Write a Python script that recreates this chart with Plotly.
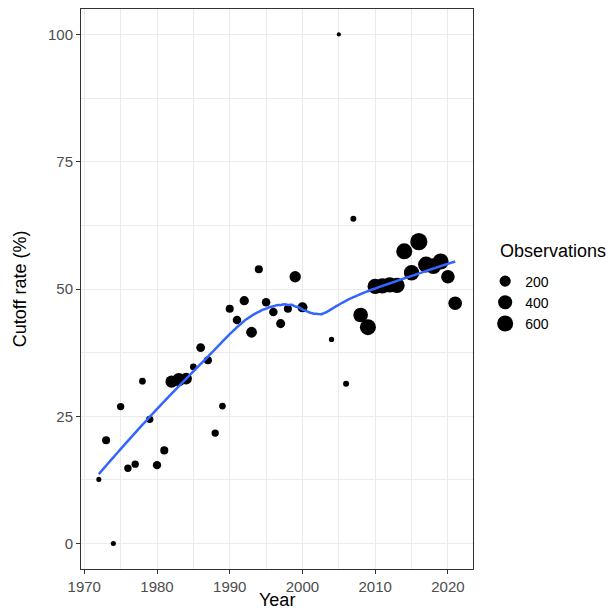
import numpy as np
import plotly.graph_objects as go

# ---- data ----
years = [1972, 1973, 1974, 1975, 1976, 1977, 1978, 1979, 1980, 1981,
         1982, 1983, 1984, 1985, 1986, 1987, 1988, 1989, 1990, 1991,
         1992, 1993, 1994, 1995, 1996, 1997, 1998, 1999, 2000,
         2004, 2005, 2006, 2007, 2008, 2009, 2010, 2011, 2012, 2013,
         2014, 2015, 2016, 2017, 2018, 2019, 2020, 2021]
cutoff_rate = [12.6, 20.3, 0.0, 26.9, 14.8, 15.6, 31.9, 24.4, 15.4, 18.3,
               31.8, 32.2, 32.4, 34.7, 38.5, 36.0, 21.7, 27.0, 46.1, 43.9,
               47.7, 41.5, 53.9, 47.4, 45.5, 43.2, 46.1, 52.4, 46.4,
               40.1, 100.0, 31.4, 63.8, 44.9, 42.5, 50.5, 50.6, 50.8, 50.7,
               57.4, 53.2, 59.3, 54.8, 54.5, 55.4, 52.4, 47.2]
observations = [8, 64, 8, 45, 45, 45, 30, 45, 75, 64,
                260, 330, 230, 30, 90, 64, 45, 30, 64, 80,
                110, 180, 64, 80, 80, 100, 64, 210, 143,
                10, 5, 18, 18, 440, 560, 500, 500, 500, 500,
                560, 500, 680, 560, 540, 560, 360, 360]
legend_breaks = [200, 400, 600]
x_ticks = [1970, 1980, 1990, 2000, 2010, 2020]
y_ticks = [0, 25, 50, 75, 100]

FONT = "Liberation Sans, Arial, Helvetica, sans-serif"

x = np.array(years, dtype=float)
y = np.array(cutoff_rate, dtype=float)
obs = np.array(observations, dtype=float)
vmin, vmax = obs.min(), obs.max()


def size_px(v):
    s = 1 + 5 * np.sqrt(np.clip((np.asarray(v, float) - vmin) / (vmax - vmin), 0, 1))
    return 1.6 + 2.6 * s


def loess(xv, yv, xs, wts, span=0.75):
    n = len(xv)
    q = int(np.floor(n * span))
    out = []
    for x0 in xs:
        d = np.abs(xv - x0)
        h = np.sort(d)[q - 1]
        u = np.clip(d / h, 0, 1)
        w = (1 - u ** 3) ** 3 * wts
        X = np.column_stack([np.ones(n), xv - x0, (xv - x0) ** 2])
        W = np.sqrt(w)
        beta, *_ = np.linalg.lstsq(X * W[:, None], yv * W, rcond=None)
        out.append(beta[0])
    return np.array(out)


xs = np.linspace(x.min(), x.max(), 160)
ys = loess(x, y, xs, obs)

fig = go.Figure()
fig.add_trace(go.Scatter(
    x=x, y=y, mode="markers", showlegend=False,
    marker=dict(size=size_px(obs), color="black", opacity=1, line=dict(width=0)),
))
fig.add_trace(go.Scatter(
    x=xs, y=ys, mode="lines", showlegend=False,
    line=dict(color="#3366FF", width=2.5, shape="spline", smoothing=1.0),
))
for b in legend_breaks:
    fig.add_trace(go.Scatter(
        x=[None], y=[None], mode="markers", name=str(b),
        marker=dict(size=float(size_px(b)), color="black", opacity=1, line=dict(width=0)),
    ))

axis_common = dict(
    showline=True, mirror=True, linecolor="#333333", linewidth=1,
    showgrid=True, gridcolor="#EBEBEB", gridwidth=1,
    zeroline=False, ticks="outside", ticklen=4, tickcolor="#333333", tickwidth=1,
    tickfont=dict(family=FONT, size=15, color="#4D4D4D"),
)

fig.update_xaxes(range=[1969.55, 2023.45], tickvals=x_ticks,
                 minor=dict(dtick=5, tick0=1965, showgrid=True, gridcolor="#EBEBEB", gridwidth=0.5, ticks=""),
                 **axis_common)
fig.update_yaxes(range=[-5, 105], tickvals=y_ticks,
                 minor=dict(dtick=12.5, tick0=0, showgrid=True, gridcolor="#EBEBEB", gridwidth=0.5, ticks=""),
                 **axis_common)

fig.update_layout(
    width=611, height=613,
    margin=dict(l=81, r=138, t=9, b=44),
    plot_bgcolor="white", paper_bgcolor="white",
    font=dict(family=FONT, color="black"),
    legend=dict(x=1.031, xanchor="left", y=0.542, yanchor="top",
                font=dict(family=FONT, size=14, color="black"),
                itemsizing="trace", bgcolor="rgba(0,0,0,0)", tracegroupgap=0),
    annotations=[
        dict(text="Year", xref="paper", yref="paper", x=0.5, y=-0.055,
             xanchor="center", yanchor="middle", showarrow=False,
             font=dict(family=FONT, size=18, color="black")),
        dict(text="Cutoff rate (%)", xref="paper", yref="paper", x=-0.155, y=0.5,
             xanchor="center", yanchor="middle", showarrow=False, textangle=-90,
             font=dict(family=FONT, size=18, color="black")),
        dict(text="Observations", xref="paper", yref="paper", x=1.0646, y=0.5675,
             xanchor="left", yanchor="middle", showarrow=False,
             font=dict(family=FONT, size=18, color="black")),
    ],
)

fig.write_html("out.html")
